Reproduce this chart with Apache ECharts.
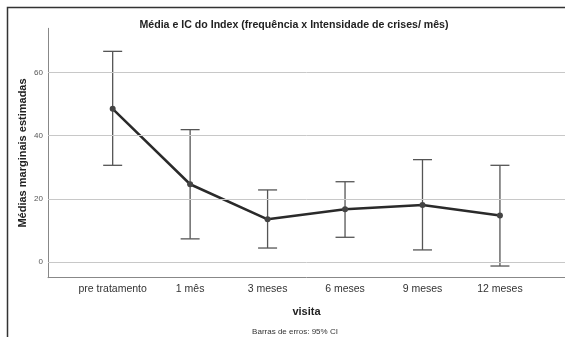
<!DOCTYPE html>
<html>
<head>
<meta charset="utf-8">
<script src="https://cdn.jsdelivr.net/npm/echarts@6/dist/echarts.min.js"></script>
<style>
html,body{margin:0;padding:0;background:#fff;}
#c{width:565px;height:337px;}
</style>
</head>
<body>
<div id="c"></div>
<script>
const categories = ['pre tratamento', '1 mês', '3 meses', '6 meses', '9 meses', '12 meses'];
const means = [48.5, 24.6, 13.5, 16.7, 18.0, 14.7];
const lower = [30.6, 7.3, 4.4, 7.8, 3.8, -1.3];
const upper = [66.7, 41.9, 22.8, 25.4, 32.4, 30.6];
const yTicks = [0, 20, 40, 60];
const yAxisTitle = 'Médias marginais estimadas';

const FONT = '"Liberation Sans", Arial, sans-serif';
const chart = echarts.init(document.getElementById('c'));

const lineData = means.map((v, i) => [i, v]);
const errData = lower.map((l, i) => [i, l, upper[i]]);

chart.setOption({
  animation: false,
  backgroundColor: '#fff',
  title: [{
    text: 'Média e IC do Index (frequência x Intensidade de crises/ mês)',
    left: 289, textAlign: 'center', top: 15,
    textStyle: { fontFamily: FONT, fontSize: 10.6, fontWeight: 'bold', color: '#222' }
  }, {
    text: 'Barras de erros: 95% CI',
    left: 290, textAlign: 'center', top: 323,
    textStyle: { fontFamily: FONT, fontSize: 8, fontWeight: 'normal', color: '#333' }
  }],
  graphic: [{
    type: 'rect', silent: true,
    shape: { x: 7.5, y: 7.5, width: 700, height: 500 },
    style: { fill: 'none', stroke: '#333', lineWidth: 1.5 }
  }, {
    type: 'text', silent: true,
    x: 22.5, y: 153, rotation: Math.PI / 2,
    style: {
      text: yAxisTitle, fontFamily: FONT, fontSize: 11, fontWeight: 'bold',
      fill: '#222', align: 'center', verticalAlign: 'middle'
    }
  }],
  grid: { left: 48, top: 28.3, width: 522, height: 249.4 },
  xAxis: {
    type: 'value', min: -0.835, max: 5.84,
    name: 'visita', nameLocation: 'middle', nameGap: 29,
    nameTextStyle: { fontFamily: FONT, fontSize: 11, fontWeight: 'bold', color: '#222' },
    axisLine: { show: true, onZero: false, lineStyle: { color: '#888', width: 1 } },
    axisTick: { show: false },
    splitLine: { show: false },
    axisLabel: {
      customValues: [0, 1, 2, 3, 4, 5],
      formatter: v => categories[Math.round(v)] || '',
      fontFamily: FONT, fontSize: 10.5, color: '#333', margin: 6
    }
  },
  yAxis: {
    type: 'value', min: -5, max: 74,
    axisLine: { show: true, onZero: false, lineStyle: { color: '#888', width: 1 } },
    axisTick: { show: false },
    splitLine: { show: false },
    axisLabel: {
      customValues: yTicks,
      fontFamily: FONT, fontSize: 8, color: '#555', margin: 5
    }
  },
  series: [{
    type: 'line',
    data: [],
    silent: true,
    markLine: {
      silent: true, symbol: 'none', label: { show: false },
      lineStyle: { color: '#c8c8c8', type: 'solid', width: 1 },
      data: yTicks.map(t => ({ yAxis: t }))
    }
  }, {
    type: 'custom',
    data: errData,
    z: 3,
    renderItem: function (params, api) {
      const x = api.value(0);
      const lo = api.coord([x, api.value(1)]);
      const hi = api.coord([x, api.value(2)]);
      const hw = 9.5;
      const st = { stroke: '#555', lineWidth: 1.3, fill: 'none' };
      return {
        type: 'group',
        children: [
          { type: 'line', shape: { x1: lo[0], y1: lo[1], x2: hi[0], y2: hi[1] }, style: st },
          { type: 'line', shape: { x1: lo[0] - hw, y1: lo[1], x2: lo[0] + hw, y2: lo[1] }, style: st },
          { type: 'line', shape: { x1: hi[0] - hw, y1: hi[1], x2: hi[0] + hw, y2: hi[1] }, style: st }
        ]
      };
    }
  }, {
    type: 'line',
    data: lineData,
    z: 4,
    symbol: 'circle', symbolSize: 6,
    itemStyle: { color: '#444' },
    lineStyle: { color: '#2a2a2a', width: 2.5 }
  }]
});
</script>
</body>
</html>
